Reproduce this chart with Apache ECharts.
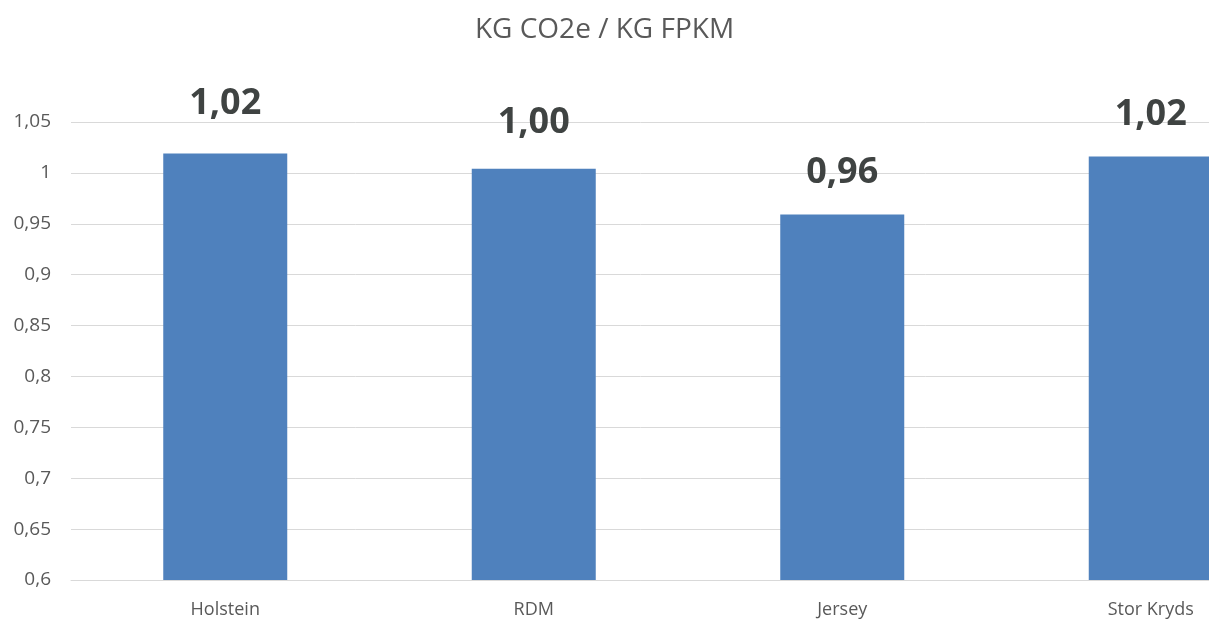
<!DOCTYPE html>
<html>
<head>
<meta charset="utf-8">
<script src="https://cdn.jsdelivr.net/npm/echarts@6/dist/echarts.min.js"></script>
<style>
  html, body { margin: 0; padding: 0; background: #ffffff; overflow: hidden; }
  #chart { width: 1209px; height: 619px; }
</style>
</head>
<body>
<div id="chart"></div>
<script>
// Emissions per kg fat- and protein-corrected milk, by breed
const categories = ['Holstein', 'RDM', 'Jersey', 'Stor Kryds'];
const co2PerKg = [1.019, 1.004, 0.959, 1.016];
// gap between each value label and its bar top
const labelGaps = [31.5, 28.5, 23.5, 24];

const yMin = 0.6;
const yMax = 1.05;
const yStep = 0.05;

const fmtComma = (v, digits) => {
  const s = digits == null ? String(+v.toFixed(2)) : v.toFixed(digits);
  return s.replace('.', ',');
};

const chart = echarts.init(document.getElementById('chart'), null, { renderer: 'canvas' });
chart.setOption({
  backgroundColor: '#ffffff',
  animation: false,
  title: {
    text: 'KG CO2e / KG FPKM',
    left: 'center',
    top: 11,
    textStyle: {
      fontFamily: 'Open Sans',
      fontSize: 28,
      fontWeight: 'normal',
      color: '#595959'
    }
  },
  grid: {
    left: 71,
    right: -96,
    top: 122,
    bottom: 39,
    outerBoundsMode: 'none',
    containLabel: false
  },
  xAxis: {
    type: 'category',
    data: categories,
    axisLine: { show: true, lineStyle: { color: '#d9d9d9', width: 1 } },
    axisTick: { show: false },
    axisLabel: {
      margin: 21,
      fontFamily: 'Open Sans',
      fontSize: 18,
      color: '#595959'
    }
  },
  yAxis: {
    type: 'value',
    min: yMin,
    max: yMax,
    interval: yStep,
    axisLine: { show: false },
    axisTick: { show: false },
    splitLine: { lineStyle: { color: '#d9d9d9', width: 1 } },
    axisLabel: {
      margin: 20,
      fontFamily: 'Open Sans',
      fontSize: 19,
      color: '#595959',
      formatter: (v) => fmtComma(v)
    }
  },
  series: [{
    type: 'bar',
    data: co2PerKg.map((v, i) => ({
      value: v,
      label: { distance: labelGaps[i] }
    })),
    barWidth: 124,
    itemStyle: { color: '#4f81bd' },
    label: {
      show: true,
      position: 'top',
      fontFamily: 'Open Sans',
      fontSize: 36,
      fontWeight: 'bold',
      color: '#3f4342',
      formatter: (p) => fmtComma(p.value, 2)
    }
  }]
});
</script>
</body>
</html>
